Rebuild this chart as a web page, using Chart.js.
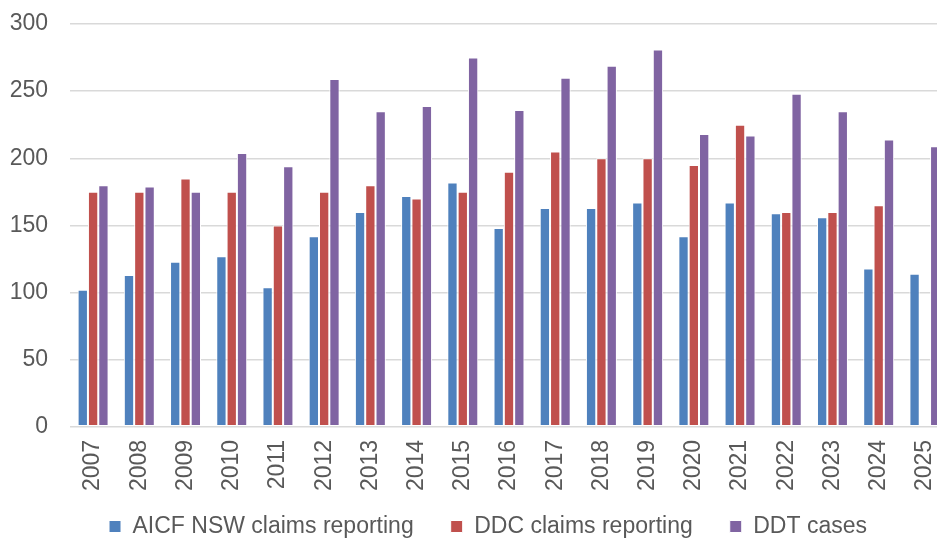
<!DOCTYPE html>
<html>
<head>
<meta charset="utf-8">
<script src="https://cdn.jsdelivr.net/npm/chart.js@4/dist/chart.umd.min.js"></script>
<style>
  html, body { margin: 0; padding: 0; background: #fff; overflow: hidden; }
  #wrap { position: absolute; left: 0; top: 0; width: 980px; height: 541px; }
</style>
</head>
<body>
<div id="wrap"><canvas id="chart"></canvas></div>
<script>
// Data
const years = ['2007', '2008', '2009', '2010', '2011', '2012', '2013', '2014', '2015', '2016',
  '2017', '2018', '2019', '2020', '2021', '2022', '2023', '2024', '2025'];
const aicfClaims = [102, 113, 123, 127, 104, 142, 160, 172, 182, 148, 163, 163, 167, 142, 167, 159, 156, 118, 114];
const ddcClaims = [175, 175, 185, 175, 150, 175, 180, 170, 175, 190, 205, 200, 200, 195, 225, 160, 160, 165, null];
const ddtCases = [180, 179, 175, 204, 194, 259, 235, 239, 275, 236, 260, 269, 281, 218, 217, 248, 235, 214, 209];
const yTicks = [0, 50, 100, 150, 200, 250, 300];

const fontFamily = '"Liberation Sans", Arial, sans-serif';
const textColor = '#595959';

function makeSet(label, data, color) {
  return {
    label: label,
    data: data,
    backgroundColor: color,
    borderColor: '#ffffff',
    borderWidth: 1,
    borderSkipped: false,
    barPercentage: 1.0,
    categoryPercentage: 0.67
  };
}

// nudge the legend so it sits where the original one does
const legendShift = {
  id: 'legendShift',
  afterLayout(chart) {
    const l = chart.legend;
    if (!l) return;
    l.left += 9; l.right += 9;
    l.top -= 26; l.bottom -= 26;
  }
};

new Chart(document.getElementById('chart'), {
  type: 'bar',
  data: {
    labels: years,
    datasets: [
      makeSet('AICF NSW claims reporting', aicfClaims, '#4F81BD'),
      makeSet('DDC claims reporting', ddcClaims, '#C0504D'),
      makeSet('DDT cases', ddtCases, '#8064A2')
    ]
  },
  plugins: [legendShift],
  options: {
    responsive: true,
    maintainAspectRatio: false,
    animation: false,
    layout: { padding: { left: 10, right: 32, top: 24, bottom: -33 } },
    plugins: {
      tooltip: { enabled: false },
      legend: {
        position: 'bottom',
        labels: {
          boxWidth: 12,
          boxHeight: 12,
          padding: 37,
          color: textColor,
          font: { family: fontFamily, size: 23 }
        }
      }
    },
    scales: {
      x: {
        grid: { display: false, drawTicks: false },
        border: { display: false },
        ticks: {
          autoSkip: false,
          minRotation: 90,
          maxRotation: 90,
          padding: 13,
          color: textColor,
          font: { family: fontFamily, size: 23 }
        }
      },
      y: {
        min: 0,
        max: 300,
        afterFit: s => { s.width = 60; s.paddingTop = 0; s.paddingBottom = 0; },
        afterBuildTicks: s => { s.ticks = yTicks.map(v => ({ value: v })); },
        grid: { color: '#d9d9d9', lineWidth: 1.5, drawTicks: false },
        border: { display: false },
        ticks: {
          padding: 22,
          color: textColor,
          font: { family: fontFamily, size: 23 }
        }
      }
    }
  }
});
</script>
</body>
</html>
